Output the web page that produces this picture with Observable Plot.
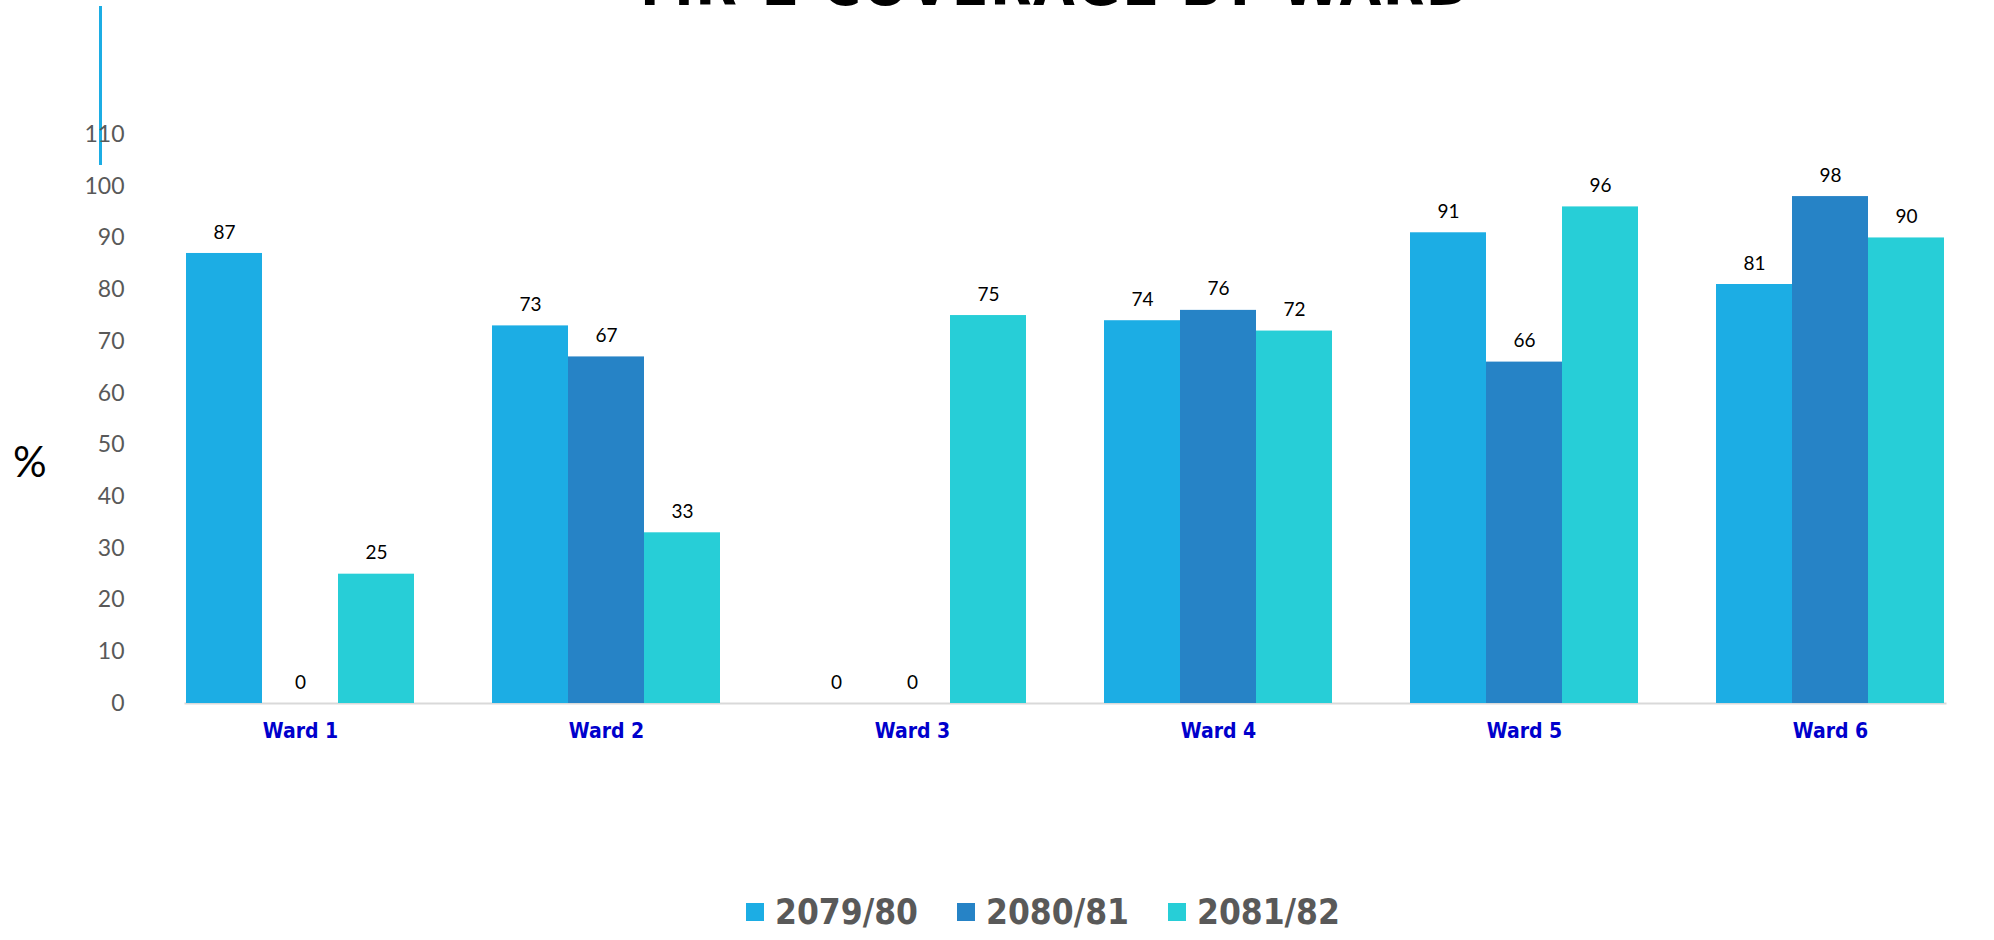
<!DOCTYPE html>
<html>
<head>
<meta charset="utf-8">
<script src="https://cdn.jsdelivr.net/npm/d3@7"></script>
<script src="https://cdn.jsdelivr.net/npm/@observablehq/plot@0.6"></script>
<style>
  html, body { margin: 0; padding: 0; background: #fff; width: 1994px; height: 940px; overflow: hidden; position: relative; }
  #title { position: absolute; left: 0; width: 1994px; top: -46px; text-align: center; font-family: "DejaVu Sans Condensed", "DejaVu Sans", sans-serif; font-weight: bold; font-size: 60px; line-height: 60px; letter-spacing: 1.5px; color: #000; padding-left: 118px; box-sizing: border-box; }
  #deco { position: absolute; left: 99px; top: 6px; width: 3px; height: 159px; background: #1CADE4; }
  #ylabel { position: absolute; left: 13px; top: 436px; font-family: "Lato", sans-serif; font-size: 42px; color: #000; }
  #chart { position: absolute; left: 0; top: 0; }
  #legend { position: absolute; left: 0; top: 892px; width: 1994px; display: flex; justify-content: center; align-items: center; gap: 39px; font-family: "DejaVu Sans Condensed", "DejaVu Sans", sans-serif; font-weight: bold; font-size: 35px; color: #595959; padding-left: 92px; box-sizing: border-box; }
  .item { display: flex; align-items: center; gap: 11px; }
  .sw { width: 18px; height: 18px; display: inline-block; }
</style>
</head>
<body>
<div id="title">MR-2 COVERAGE BY WARD</div>
<div id="deco"></div>
<div id="ylabel">%</div>
<div id="chart"></div>
<div id="legend"></div>
<script>
const wards = ["Ward 1", "Ward 2", "Ward 3", "Ward 4", "Ward 5", "Ward 6"];
const years = ["2079/80", "2080/81", "2081/82"];
const colors = ["#1CADE4", "#2683C6", "#27CED7"];
const v2079_80 = [87, 73, 0, 74, 91, 81];
const v2080_81 = [0, 67, 0, 76, 66, 98];
const v2081_82 = [25, 33, 75, 72, 96, 90];
const yTicks = [0, 10, 20, 30, 40, 50, 60, 70, 80, 90, 100, 110];

const series = [v2079_80, v2080_81, v2081_82];
const data = [];
wards.forEach((w, i) => {
  years.forEach((yr, j) => data.push({ward: w, year: yr, value: series[j][i]}));
});

const chart = Plot.plot({
  width: 1994,
  height: 760,
  marginTop: 134,
  marginBottom: 57,
  marginLeft: 146,
  marginRight: 10,
  style: {fontFamily: "Lato, sans-serif", background: "transparent"},
  fx: {domain: wards, paddingInner: 0.25, paddingOuter: 0.125, axis: null, label: null},
  x: {domain: years, padding: 0, axis: null},
  y: {domain: [0, 110], axis: null},
  color: {domain: years, range: colors},
  marks: [
    Plot.axisY({ticks: yTicks, tickSize: 0, tickPadding: 61, fontSize: 23, color: "#595959", label: null}),
    Plot.axisFx({anchor: "bottom", tickSize: 0, tickPadding: 20, fontSize: 21, fontFamily: "DejaVu Sans Condensed, DejaVu Sans, sans-serif", fontWeight: "bold", color: "#0000CC", label: null}),
    Plot.frame({anchor: "bottom", stroke: "#d9d9d9", strokeWidth: 2, facet: "super"}),
    Plot.barY(data, {fx: "ward", x: "year", y: "value", fill: "year"}),
    Plot.text(data, {fx: "ward", x: "year", y: "value", text: d => String(d.value), dy: -21, fontSize: 19, fill: "#000"})
  ]
});
document.getElementById("chart").appendChild(chart);

const legend = document.getElementById("legend");
years.forEach((yr, j) => {
  const it = document.createElement("div");
  it.className = "item";
  const sw = document.createElement("span");
  sw.className = "sw";
  sw.style.background = colors[j];
  const t = document.createElement("span");
  t.textContent = yr;
  it.appendChild(sw); it.appendChild(t);
  legend.appendChild(it);
});
</script>
</body>
</html>
